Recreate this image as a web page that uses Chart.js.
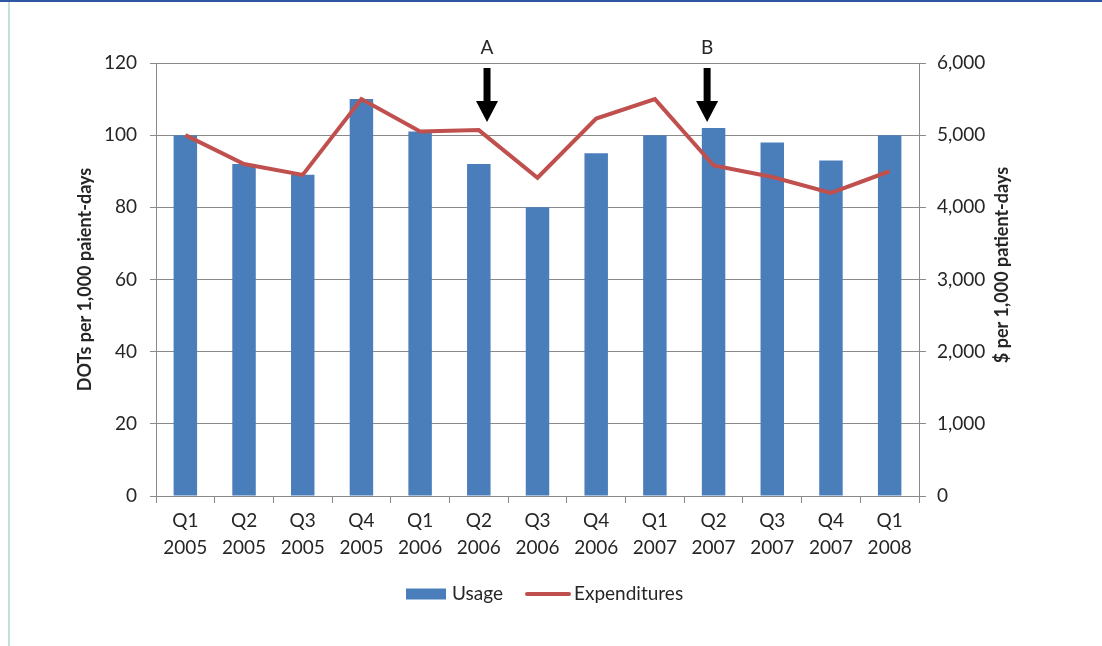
<!DOCTYPE html>
<html>
<head>
<meta charset="utf-8">
<script src="https://cdn.jsdelivr.net/npm/chart.js@4/dist/chart.umd.min.js"></script>
<style>
  html, body { margin: 0; padding: 0; background: #fff; }
  #wrap { position: relative; width: 1102px; height: 646px; }
  canvas { display: block; }
</style>
</head>
<body>
<div id="wrap"><canvas id="c" width="1102" height="646"></canvas></div>
<script>
// ---- data ----
const quarters = ['Q1','Q2','Q3','Q4','Q1','Q2','Q3','Q4','Q1','Q2','Q3','Q4','Q1'];
const years = ['2005','2005','2005','2005','2006','2006','2006','2006','2007','2007','2007','2007','2008'];
const usage = [100, 92, 89, 110, 101, 92, 80, 95, 100, 102, 98, 93, 100];
const expenditures = [5000, 4600, 4450, 5500, 5050, 5070, 4410, 5230, 5500, 4580, 4420, 4200, 4500];
const leftTicks = [0, 20, 40, 60, 80, 100, 120];
const rightTicks = [0, 1000, 2000, 3000, 4000, 5000, 6000];
const markerLabels = ['A', 'B'];
const markerIndex = [5, 9];

const FONT = 'Lato, "Open Sans", sans-serif';
const TXT = '#262626';
const GRID = '#8a8a8a';
const BLUE = '#4a7ebb';
const RED = '#c0504d';
const FS = 19;

const labels = quarters.map((q, i) => [q, years[i]]);

const decor = {
  id: 'decor',
  beforeDraw(chart) {
    const ctx = chart.ctx;
    ctx.save();
    ctx.fillStyle = '#2f56a3';
    ctx.fillRect(0, 0, chart.width, 2);
    ctx.fillStyle = '#bfe3db';
    ctx.fillRect(8, 2, 2, chart.height - 2);
    ctx.restore();
  },
  afterDraw(chart) {
    const ctx = chart.ctx;
    const x = chart.scales.x;
    ctx.save();
    // right axis title
    ctx.fillStyle = TXT;
    ctx.font = 'bold 18px ' + FONT;
    ctx.textAlign = 'center';
    ctx.textBaseline = 'middle';
    ctx.translate(1002, 265);
    ctx.rotate(-Math.PI / 2);
    ctx.fillText('$ per 1,000 patient-days', 0, 0);
    ctx.restore();

    // arrows A and B
    const shifts = [0.14, -0.11];
    markerLabels.forEach((lab, k) => {
      const cx = x.getPixelForValue(markerIndex[k]) + shifts[k] * (x.width / labels.length);
      ctx.save();
      ctx.fillStyle = TXT;
      ctx.font = FS + 'px ' + FONT;
      ctx.textAlign = 'center';
      ctx.textBaseline = 'middle';
      ctx.fillText(lab, cx, 48);
      ctx.fillStyle = '#000';
      ctx.beginPath();
      ctx.moveTo(cx - 3.5, 68);
      ctx.lineTo(cx + 3.5, 68);
      ctx.lineTo(cx + 3.5, 101);
      ctx.lineTo(cx + 11, 101);
      ctx.lineTo(cx, 122);
      ctx.lineTo(cx - 11, 101);
      ctx.lineTo(cx - 3.5, 101);
      ctx.closePath();
      ctx.fill();
      ctx.restore();
    });

    // legend
    ctx.save();
    const ly = 594;
    ctx.fillStyle = BLUE;
    ctx.fillRect(406, ly - 5.5, 40, 11);
    ctx.fillStyle = TXT;
    ctx.font = FS + 'px ' + FONT;
    ctx.textAlign = 'left';
    ctx.textBaseline = 'middle';
    ctx.fillText('Usage', 452, ly);
    ctx.strokeStyle = RED;
    ctx.lineWidth = 4;
    ctx.lineCap = 'round';
    ctx.beginPath();
    ctx.moveTo(527, ly);
    ctx.lineTo(569, ly);
    ctx.stroke();
    ctx.fillText('Expenditures', 574, ly);
    ctx.restore();
  }
};

new Chart(document.getElementById('c'), {
  type: 'bar',
  data: {
    labels: labels,
    datasets: [
      {
        type: 'line',
        label: 'Expenditures',
        data: expenditures,
        yAxisID: 'y2',
        borderColor: RED,
        backgroundColor: RED,
        borderWidth: 4,
        pointRadius: 0,
        tension: 0,
        order: 0
      },
      {
        type: 'bar',
        label: 'Usage',
        data: usage,
        yAxisID: 'y',
        backgroundColor: BLUE,
        borderWidth: 0,
        barPercentage: 0.4,
        categoryPercentage: 1,
        order: 1
      }
    ]
  },
  options: {
    responsive: false,
    animation: false,
    events: [],
    layout: { padding: { left: 0, right: 0, top: 63, bottom: 80 } },
    plugins: {
      legend: { display: false },
      tooltip: { enabled: false },
      title: { display: false }
    },
    scales: {
      x: {
        offset: true,
        grid: { display: true, drawOnChartArea: false, drawTicks: true, tickLength: 7, offset: true, color: GRID, lineWidth: 1 },
        border: { display: true, color: GRID, width: 1 },
        ticks: { color: TXT, font: { family: FONT, size: FS, lineHeight: 1.42 }, padding: 4, maxRotation: 0, autoSkip: false },
        afterFit(s) { s.height = 70; }
      },
      y: {
        position: 'left',
        min: 0, max: 120,
        afterBuildTicks(s) { s.ticks = leftTicks.map(v => ({ value: v })); },
        grid: { color: GRID, lineWidth: 1, tickLength: 6, drawTicks: true },
        border: { display: true, color: GRID, width: 1 },
        ticks: { color: TXT, font: { family: FONT, size: FS }, padding: 13 },
        title: { display: true, text: 'DOTs per 1,000 paient-days', color: TXT, font: { family: FONT, size: 18, weight: 'bold' }, padding: { top: 74, bottom: 0 } },
        afterFit(s) { s.width = 156; }
      },
      y2: {
        position: 'right',
        min: 0, max: 6000,
        afterBuildTicks(s) { s.ticks = rightTicks.map(v => ({ value: v })); },
        grid: { drawOnChartArea: false, color: GRID, lineWidth: 1, tickLength: 7, drawTicks: true },
        border: { display: true, color: GRID, width: 1 },
        ticks: { color: TXT, font: { family: FONT, size: FS }, padding: 11, callback: v => v.toLocaleString('en-US') },
        afterFit(s) { s.width = 183; }
      }
    }
  },
  plugins: [decor]
});
</script>
</body>
</html>
